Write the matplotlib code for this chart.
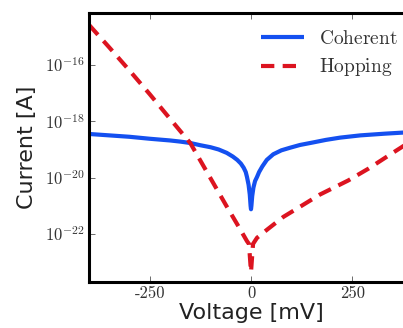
import numpy as np
import matplotlib
matplotlib.use("Agg")
import matplotlib.pyplot as plt
from matplotlib.ticker import FixedLocator, FixedFormatter, NullLocator

plt.rcParams["mathtext.fontset"] = "cm"
plt.rcParams["axes.unicode_minus"] = False

# Coherent tunnelling current: bias (mV) and log10 of current (A)
coherent_v = [-400, -350, -300, -250, -200, -175, -150, -125, -100, -80, -60, -45, -34,
              -25, -18, -13, -10, -6, -3, -1, 0, 1, 3, 6, 10, 15, 20, 28, 39, 55, 75,
              96, 121, 150, 185, 220, 270, 330, 400]
coherent_log_i = [-18.45, -18.50, -18.55, -18.62, -18.68, -18.72, -18.77, -18.85, -18.92,
                  -19.00, -19.12, -19.25, -19.37, -19.50, -19.65, -19.80, -19.97, -20.25,
                  -20.60, -21.00, -21.12, -21.00, -20.65, -20.35, -20.12, -19.97, -19.80,
                  -19.60, -19.37, -19.17, -19.03, -18.94, -18.84, -18.76, -18.66, -18.58,
                  -18.50, -18.44, -18.38]

# Hopping current: bias (mV) and log10 of current (A)
hopping_v = [-400, -350, -300, -250, -200, -150, -100, -60, -30, -10, -5, 0,
             5, 15, 40, 80, 120, 170, 240, 290, 350, 400]
hopping_log_i = [-14.58, -15.38, -16.20, -17.04, -17.91, -18.77, -20.02, -21.02, -21.75,
                 -22.25, -22.35, -23.35,
                 -22.35, -22.13, -21.84, -21.39, -21.04, -20.60, -20.10, -19.68, -19.12, -18.66]

x_ticks = [-250, 0, 250]
x_tick_labels = ["-250", "0", "250"]
y_ticks = [1e-22, 1e-20, 1e-18, 1e-16]
y_tick_labels = [r"$10^{-22}$", r"$10^{-20}$", r"$10^{-18}$", r"$10^{-16}$"]

fig = plt.figure(figsize=(4.03, 3.28), dpi=100)
ax = fig.add_axes([89 / 403, 1 - 282 / 328, (413 - 89) / 403, (282 - 13) / 328])

ax.plot(coherent_v, 10.0 ** np.array(coherent_log_i), color="#1450f0", lw=3.0,
        label=r"$\mathrm{Coherent}$", solid_capstyle="butt")
ax.plot(hopping_v, 10.0 ** np.array(hopping_log_i), color="#dc1420", lw=3.0,
        ls=(0, (3.2, 2.0)), label=r"$\mathrm{Hopping}$")

ax.set_yscale("log")
ax.set_xlim(-400, 400)
ax.set_ylim(10 ** -23.7, 10 ** -14.16)

ax.xaxis.set_major_locator(FixedLocator(x_ticks))
ax.xaxis.set_major_formatter(FixedFormatter(x_tick_labels))
ax.yaxis.set_major_locator(FixedLocator(y_ticks))
ax.yaxis.set_major_formatter(FixedFormatter(y_tick_labels))
ax.yaxis.set_minor_locator(NullLocator())

ax.tick_params(axis="both", which="major", direction="in", length=4, width=0.6,
               top=True, right=True, colors="#555555", labelcolor="#333333")
ax.tick_params(axis="x", labelsize=12, pad=3)
ax.tick_params(axis="y", labelsize=12, pad=3)
for lbl in ax.get_xticklabels():
    lbl.set_fontfamily("cmr10")

for sp in ax.spines.values():
    sp.set_linewidth(2.2)
    sp.set_color("black")

ax.set_xlabel("Voltage [mV]", fontsize=16, color="#222222", labelpad=1)
ax.set_ylabel("Current [A]", fontsize=16, color="#222222", labelpad=5.5)

leg = ax.legend(loc="upper right", frameon=False, fontsize=14, handlelength=2.2,
                labelspacing=0.45, handletextpad=0.75, bbox_to_anchor=(1.006, 1.007))
for t in leg.get_texts():
    t.set_color("#333333")

fig.savefig("out.png", dpi=100)
